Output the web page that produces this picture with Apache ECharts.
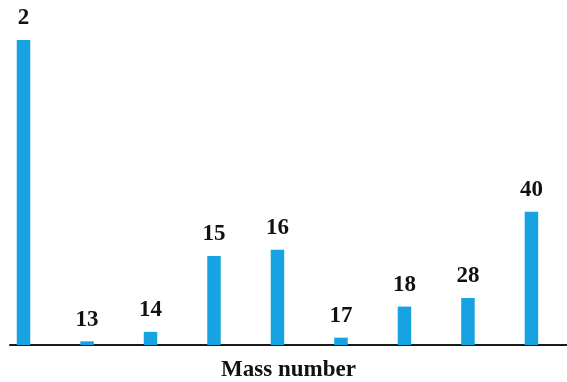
<!DOCTYPE html>
<html>
<head>
<meta charset="utf-8">
<script src="https://cdn.jsdelivr.net/npm/echarts@6/dist/echarts.min.js"></script>
<style>
  html, body { margin: 0; padding: 0; background: #fff; }
  #chart { width: 567px; height: 382px; }
</style>
</head>
<body>
<div id="chart"></div>
<script>
// Mass spectrum: peak labels (mass numbers) and relative intensities
const massNumbers = ['2', '13', '14', '15', '16', '17', '18', '28', '40'];
const intensities = [100, 1.2, 4.3, 29.2, 31.2, 2.4, 12.6, 15.4, 43.7];

const chart = echarts.init(document.getElementById('chart'));

const seriesData = intensities.map((v, i) => [i, v]);

chart.setOption({
  animation: false,
  grid: { left: 10, right: 0, top: 40, bottom: 37, outerBoundsMode: 'none', containLabel: false },
  xAxis: {
    type: 'value',
    min: -0.213,
    max: 8.56,
    splitLine: { show: false },
    axisTick: { show: false },
    axisLabel: { show: false },
    axisLine: { show: true, lineStyle: { color: '#1a1a1a', width: 2 } },
    name: 'Mass number',
    nameLocation: 'middle',
    nameGap: 14,
    nameTextStyle: {
      fontFamily: 'Liberation Serif',
      fontWeight: 'bold',
      fontSize: 23,
      color: '#111'
    }
  },
  yAxis: {
    type: 'value',
    min: 0,
    max: 100,
    show: false
  },
  series: [{
    type: 'bar',
    data: seriesData,
    barWidth: 13.5,
    itemStyle: { color: '#17a2e2' },
    label: {
      show: true,
      position: 'top',
      distance: 10,
      formatter: p => massNumbers[p.dataIndex],
      fontFamily: 'Liberation Serif',
      fontWeight: 'bold',
      fontSize: 23,
      color: '#111'
    }
  }]
});
</script>
</body>
</html>
